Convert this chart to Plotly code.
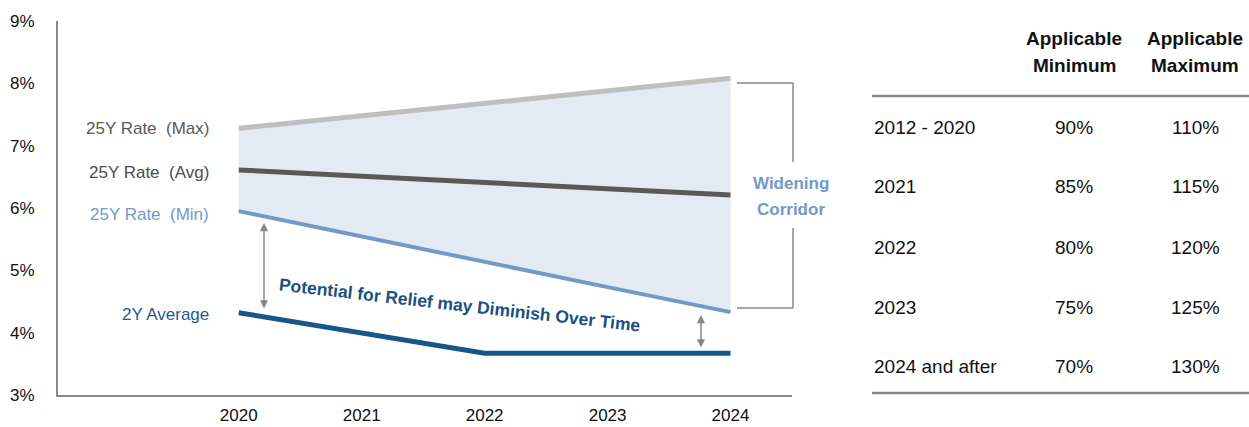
import plotly.graph_objects as go

W, H = 1249, 427

# ---- data ----
years = [2020, 2021, 2022, 2023, 2024]
rate_max = [7.28, 7.48, 7.68, 7.88, 8.08]
rate_avg = [6.61, 6.51, 6.41, 6.31, 6.21]
rate_min = [5.95, 5.54, 5.13, 4.73, 4.33]
two_year_avg = [4.32, 4.00, 3.67, 3.67, 3.67]

y_ticks = [3, 4, 5, 6, 7, 8, 9]
y_tick_labels = ["3%", "4%", "5%", "6%", "7%", "8%", "9%"]

table_headers = [["Applicable", "Minimum"], ["Applicable", "Maximum"]]
periods = ["2012 - 2020", "2021", "2022", "2023", "2024 and after"]
applicable_min = ["90%", "85%", "80%", "75%", "70%"]
applicable_max = ["110%", "115%", "120%", "125%", "130%"]

FONT = "Liberation Sans, Arial, sans-serif"
C_MAX = "#BFBFBF"
C_AVG = "#595959"
C_MIN = "#7399C6"
C_2Y = "#17568A"
C_FILL = "#E2EAF4"
C_GRAY = "#878787"


def px(x):
    return x / W


def py(y):
    return 1 - y / H


fig = go.Figure()
# corridor fill
fig.add_trace(go.Scatter(x=years, y=rate_max, mode="lines", line=dict(width=0),
                         hoverinfo="skip", showlegend=False))
fig.add_trace(go.Scatter(x=years, y=rate_min, mode="lines", line=dict(width=0),
                         fill="tonexty", fillcolor=C_FILL, hoverinfo="skip", showlegend=False))
# lines
fig.add_trace(go.Scatter(x=years, y=rate_max, mode="lines", line=dict(color=C_MAX, width=5),
                         showlegend=False))
fig.add_trace(go.Scatter(x=years, y=rate_avg, mode="lines", line=dict(color=C_AVG, width=5),
                         showlegend=False))
fig.add_trace(go.Scatter(x=years, y=rate_min, mode="lines", line=dict(color=C_MIN, width=4),
                         showlegend=False))
fig.add_trace(go.Scatter(x=years, y=two_year_avg, mode="lines", line=dict(color=C_2Y, width=5),
                         showlegend=False))

ann = []
# series labels
labels = [("25Y Rate\u00a0 (Max)", 128, C_AVG), ("25Y Rate\u00a0 (Avg)", 172, "#4D4D4D"),
          ("25Y Rate\u00a0 (Min)", 214, C_MIN), ("2Y Average", 314, "#1F5A8F")]
for t, y, c in labels:
    ann.append(dict(text=t, x=px(211), y=py(y), xref="paper", yref="paper",
                    xanchor="right", yanchor="middle", showarrow=False,
                    font=dict(family=FONT, size=17, color=c)))

# rotated message
ann.append(dict(text="<b>Potential for Relief may Diminish Over Time</b>", x=px(460), y=py(305),
                xref="paper", yref="paper", xanchor="center", yanchor="middle",
                showarrow=False, textangle=6.5,
                font=dict(family=FONT, size=17.5, color="#1B5081")))

# double arrows
for x, y0, y1 in [(264, 223, 310), (701, 315, 349)]:
    ann.append(dict(text="", x=px(x), y=py(y0), xref="paper", yref="paper",
                    ax=0, ay=y1 - y0, axref="pixel", ayref="pixel", showarrow=True,
                    arrowhead=2, arrowside="end+start", arrowsize=1.1, arrowwidth=1.5,
                    arrowcolor=C_GRAY, standoff=0, startstandoff=0))

# corridor label
for t, y in [("Widening", 183), ("Corridor", 209)]:
    ann.append(dict(text="<b>" + t + "</b>", x=px(791), y=py(y), xref="paper", yref="paper",
                    xanchor="center", yanchor="middle", showarrow=False,
                    font=dict(family=FONT, size=17, color=C_MIN)))

# table header
col_x = [1074, 1195]
for cx, hdr in zip(col_x, table_headers):
    for t, y in zip(hdr, [39, 66]):
        ann.append(dict(text="<b>" + t + "</b>", x=px(cx), y=py(y), xref="paper", yref="paper",
                        xanchor="center", yanchor="middle", showarrow=False,
                        font=dict(family=FONT, size=19, color="#111111")))
row_y = [127, 186, 247, 307, 366]
for p, mn, mx, y in zip(periods, applicable_min, applicable_max, row_y):
    ann.append(dict(text=p, x=px(872), y=py(y), xref="paper", yref="paper",
                    xanchor="left", yanchor="middle", showarrow=False,
                    font=dict(family=FONT, size=19, color="#111111")))
    for cx, t in zip(col_x, [mn, mx]):
        ann.append(dict(text=t, x=px(cx), y=py(y), xref="paper", yref="paper",
                        xanchor="center", yanchor="middle", showarrow=False,
                        font=dict(family=FONT, size=19, color="#111111")))

shapes = []
line_style = dict(color=C_GRAY, width=1.5)
for (x0, y0, x1, y1) in [(737, 83, 793, 83), (793, 83, 793, 162), (793, 228, 793, 308),
                         (737, 308, 793, 308)]:
    shapes.append(dict(type="line", xref="paper", yref="paper", x0=px(x0), y0=py(y0),
                       x1=px(x1), y1=py(y1), line=line_style))
for y in [96, 393]:
    shapes.append(dict(type="line", xref="paper", yref="paper", x0=px(872), y0=py(y),
                       x1=1, y1=py(y), line=dict(color=C_GRAY, width=2.5)))

fig.update_layout(
    width=W, height=H, margin=dict(l=0, r=0, t=0, b=0),
    paper_bgcolor="white", plot_bgcolor="white",
    annotations=ann, shapes=shapes, showlegend=False,
    xaxis=dict(domain=[px(58), px(792)], range=[2018.53, 2024.5], tickvals=years,
               ticktext=[str(y) for y in years], showgrid=False, zeroline=False,
               showline=True, linecolor=C_GRAY, linewidth=2, ticks="",
               ticklabelstandoff=4, automargin=False,
               tickfont=dict(family=FONT, size=17, color="#111111")),
    yaxis=dict(domain=[1 - 395 / H, 1 - 21 / H], range=[3, 9], tickvals=y_ticks,
               ticktext=y_tick_labels, showgrid=False, zeroline=False,
               showline=True, linecolor=C_GRAY, linewidth=2, ticks="",
               ticklabelstandoff=18, automargin=False,
               tickfont=dict(family=FONT, size=17, color="#111111")),
)

fig.write_html("out.html")
